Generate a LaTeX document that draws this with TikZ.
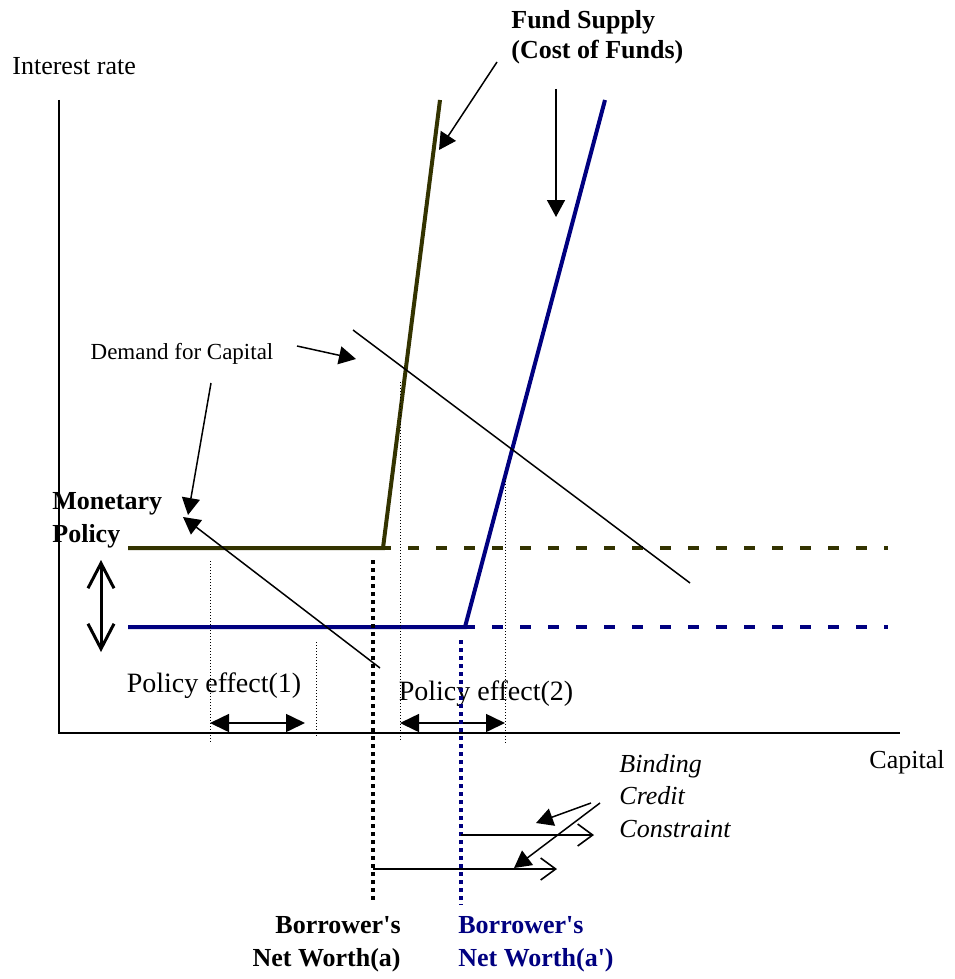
\documentclass[tikz,border=0pt]{standalone}
\usepackage{fontspec}
\setmainfont{Liberation Serif}
\usetikzlibrary{arrows.meta}
\definecolor{oldsupply}{RGB}{51,51,0}
\definecolor{newsupply}{RGB}{0,0,128}
\tikzset{
  base/.style={font=\fontsize{13}{15}\selectfont, inner sep=0pt, text=black},
  tag/.style={base, font=\fontsize{13}{16.5}\selectfont\bfseries},
  small/.style={base, font=\fontsize{11.5}{13}\selectfont},
  effect/.style={base, font=\fontsize{14}{16}\selectfont},
  axis/.style={line width=1pt},
  curve/.style={line width=2pt, draw=#1},
  curvedash/.style={line width=2.2pt, draw=#1, dash pattern=on 5.5pt off 8.5pt},
  worth/.style={line width=2pt, draw=#1, dash pattern=on 2pt off 2pt},
  guide/.style={line width=0.5pt, dash pattern=on 0.5pt off 1pt},
  ptr/.style={-{Triangle[length=8.5pt,width=9pt]}, line width=0.75pt},
  span/.style={{Triangle[length=9.5pt,width=9pt]}-{Triangle[length=9.5pt,width=9pt]}, line width=0.8pt},
  push/.style={-{Straight Barb[length=7.5pt,width=11pt]}, line width=0.8pt},
  swing/.style={{Straight Barb[length=12.5pt,width=13pt]}-{Straight Barb[length=12.5pt,width=13pt]}, line width=1.5pt},
}
\begin{document}
\begin{tikzpicture}[x=0.5pt,y=-0.5pt]
  \useasboundingbox (0,0) rectangle (954,979);
  % axes
  \coordinate (orig) at (59,733);
  \coordinate (ytop) at (59,100);
  \coordinate (xend) at (900,733);
  \draw[axis] (ytop) -- (orig) -- (xend);
  \node[base,anchor=west] (ylbl) at (12,66) {Interest rate};
  \node[base] (xlbl) at (907,762) {Capital};
  % supply curves, before and after the policy
  \coordinate (oa) at (128,548); \coordinate (ok) at (383,548); \coordinate (ot) at (440,100);
  \coordinate (na) at (128,627); \coordinate (nk) at (465,627); \coordinate (nt) at (605,100);
  \draw[curvedash=oldsupply] (oa) -- (888,548);
  \draw[curvedash=newsupply] (na) -- (888,627);
  \draw[curve=oldsupply,line join=miter] (oa) -- (ok) -- (ot);
  \draw[curve=newsupply,line join=miter] (na) -- (nk) -- (nt);
  % demand lines
  \coordinate (da) at (353,330); \coordinate (db) at (690,583);
  \draw[line width=0.75pt] (da) -- (db);
  \coordinate (pa) at (380,668); \coordinate (pb) at (183,517);
  \draw[ptr] (pa) -- (pb);
  % guides at the crossings
  \foreach \x/\a/\b in {210/561/743,316/642/738,400/382/742,505/478/743}{
    \draw[guide] (\x,\a) -- (\x,\b);
  }
  \draw[span] (210,723) -- (305,723);
  \draw[span] (400,723) -- (505,723);
  \node[effect] (eff1) at (214,686) {Policy effect(1)};
  \node[effect] (eff2) at (486,694) {Policy effect(2)};
  % net worth
  \coordinate (wa) at (373,560); \coordinate (wb) at (461,640);
  \draw[worth=black] (wa) -- (373,902);
  \draw[worth=newsupply] (wb) -- (461,905);
  \draw[push] (373,869) -- (557,869);
  \draw[push] (461,835) -- (594,835);
  \node[tag,anchor=east,align=right] (wlbl) at (401,944) {Borrower\textquotesingle s\\Net Worth(a)};
  \node[tag,anchor=west,align=left,text=newsupply] (wlbl2) at (458,944) {Borrower\textquotesingle s\\Net Worth(a\textquotesingle)};
  % labels and pointers
  \node[tag,anchor=west,align=left,font=\fontsize{13}{15}\selectfont\bfseries] (fund) at (511,37) {Fund Supply\\(Cost of Funds)};
  \draw[ptr] (497,62) -- (439,150);
  \draw[ptr] (556,89) -- (556,217);
  \node[small] (dem) at (182,354) {Demand for Capital};
  \draw[ptr] (297,346) -- (356,359);
  \draw[ptr] (211,383) -- (188,515);
  \node[tag,anchor=west,align=left] (mp) at (52,520) {Monetary\\Policy};
  \draw[swing] (101,560) -- (101,652);
  \node[base,anchor=west,align=left,font=\fontsize{13}{16.25}\selectfont\itshape] (bind) at (619,796) {Binding\\Credit\\Constraint};
  \draw[ptr] (591,803) -- (536,823);
  \draw[ptr] (600,803) -- (514,868);
\end{tikzpicture}
\end{document}
